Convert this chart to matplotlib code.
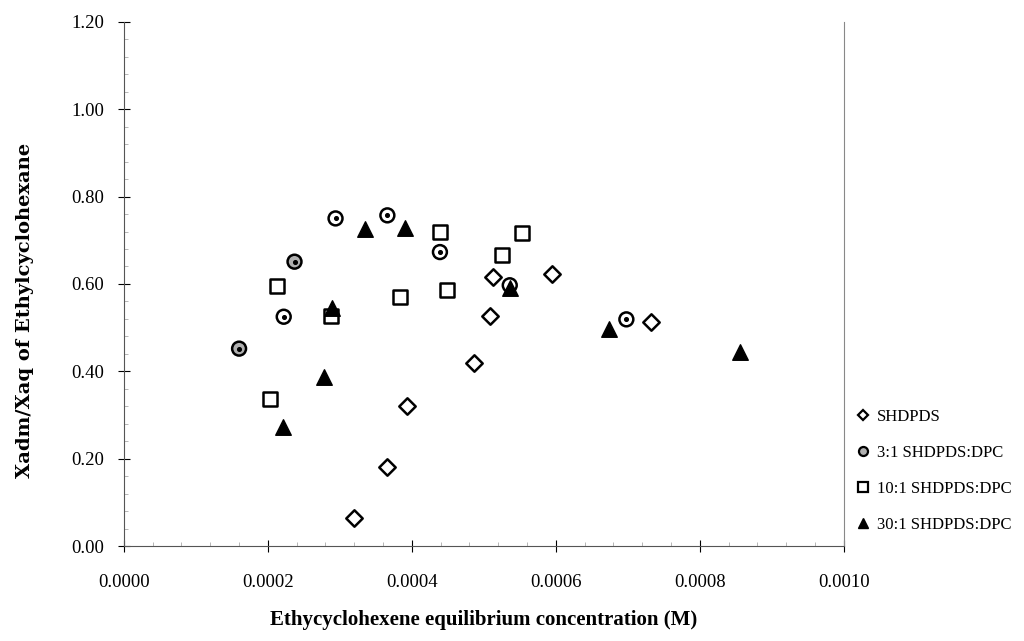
import numpy as np
import matplotlib
matplotlib.use("Agg")
from matplotlib import pyplot as plt
from matplotlib.ticker import MultipleLocator, FormatStrFormatter
from matplotlib.lines import Line2D

# data
shdpds_x = [0.000320, 0.000365, 0.000393, 0.000486, 0.000508, 0.000513, 0.000594, 0.000732]
shdpds_y = [0.064, 0.181, 0.320, 0.420, 0.526, 0.616, 0.622, 0.513]

r3_x = [0.000160, 0.000222, 0.000237, 0.000294, 0.000366, 0.000439, 0.000536, 0.000698]
r3_y = [0.452, 0.525, 0.651, 0.750, 0.757, 0.673, 0.597, 0.519]
r3_fill = ['#b0b0b0', 'white', '#b0b0b0', 'white', 'white', 'white', 'white', 'white']

r10_x = [0.000203, 0.000212, 0.000287, 0.000384, 0.000439, 0.000449, 0.000525, 0.000553]
r10_y = [0.336, 0.596, 0.526, 0.571, 0.719, 0.586, 0.666, 0.716]

r30_x = [0.000221, 0.000278, 0.000289, 0.000335, 0.000390, 0.000536, 0.000674, 0.000856]
r30_y = [0.272, 0.387, 0.546, 0.725, 0.729, 0.590, 0.498, 0.445]

labels = ['SHDPDS', '3:1 SHDPDS:DPC', '10:1 SHDPDS:DPC', '30:1 SHDPDS:DPC']

plt.rcParams['font.family'] = ['Liberation Serif', 'DejaVu Serif']

fig = plt.figure(figsize=(10.24, 6.41), dpi=100)
ax = fig.add_axes([0.121, 0.148, 0.703, 0.818])

ax.scatter(shdpds_x, shdpds_y, marker='D', s=70, facecolors='white',
           edgecolors='black', linewidths=1.8, zorder=3)
ax.scatter(r3_x, r3_y, marker='o', s=100, facecolors=r3_fill,
           edgecolors='black', linewidths=1.8, zorder=3)
# little dot in the middle of the circles
ax.scatter(r3_x, r3_y, marker='o', s=7, color='black', zorder=4)
ax.scatter(r10_x, r10_y, marker='s', s=110, facecolors='white',
           edgecolors='black', linewidths=1.8, zorder=3)
ax.scatter(r30_x, r30_y, marker='^', s=125, color='black', zorder=3)

ax.set_xlim(0, 0.0010)
ax.set_ylim(0, 1.20)
ax.xaxis.set_major_locator(MultipleLocator(0.0002))
ax.xaxis.set_minor_locator(MultipleLocator(0.00004))
ax.yaxis.set_major_locator(MultipleLocator(0.2))
ax.yaxis.set_minor_locator(MultipleLocator(0.04))
ax.xaxis.set_major_formatter(FormatStrFormatter('%.4f'))
ax.yaxis.set_major_formatter(FormatStrFormatter('%.2f'))
ax.tick_params(which='major', direction='inout', length=8, width=0.8,
               labelsize=13.5)
ax.tick_params(axis='x', which='major', pad=16)
ax.tick_params(axis='y', which='major', pad=10)
ax.tick_params(which='minor', direction='in', length=3, width=0.5, color='#999999')

ax.spines['top'].set_visible(False)
ax.spines['right'].set_color('#888888')
ax.spines['right'].set_linewidth(0.8)
ax.spines['left'].set_color('#555555')
ax.spines['bottom'].set_color('#555555')

ax.set_xlabel('Ethycyclohexene equilibrium concentration (M)', fontsize=15,
              fontweight='bold', labelpad=14)
ax.set_ylabel('Xadm/Xaq of Ethylcyclohexane', fontsize=14,
              fontweight='bold', family='DejaVu Serif')
ax.yaxis.set_label_coords(-0.125, 0.45)

# legend to the right of the plot
handles = [
    Line2D([], [], ls='none', marker='D', ms=5.5, mfc='white', mec='black', mew=1.6),
    Line2D([], [], ls='none', marker='o', ms=6.5, mfc='#b0b0b0', mec='black', mew=1.6),
    Line2D([], [], ls='none', marker='s', ms=6.5, mfc='white', mec='black', mew=1.6),
    Line2D([], [], ls='none', marker='^', ms=7.5, color='black'),
]
fig.legend(handles, labels, loc='upper left', bbox_to_anchor=(0.822, 0.385),
           frameon=False, fontsize=12, handlelength=0.8, handletextpad=0.4,
           labelspacing=1.2)

fig.savefig('out.png', dpi=100)
